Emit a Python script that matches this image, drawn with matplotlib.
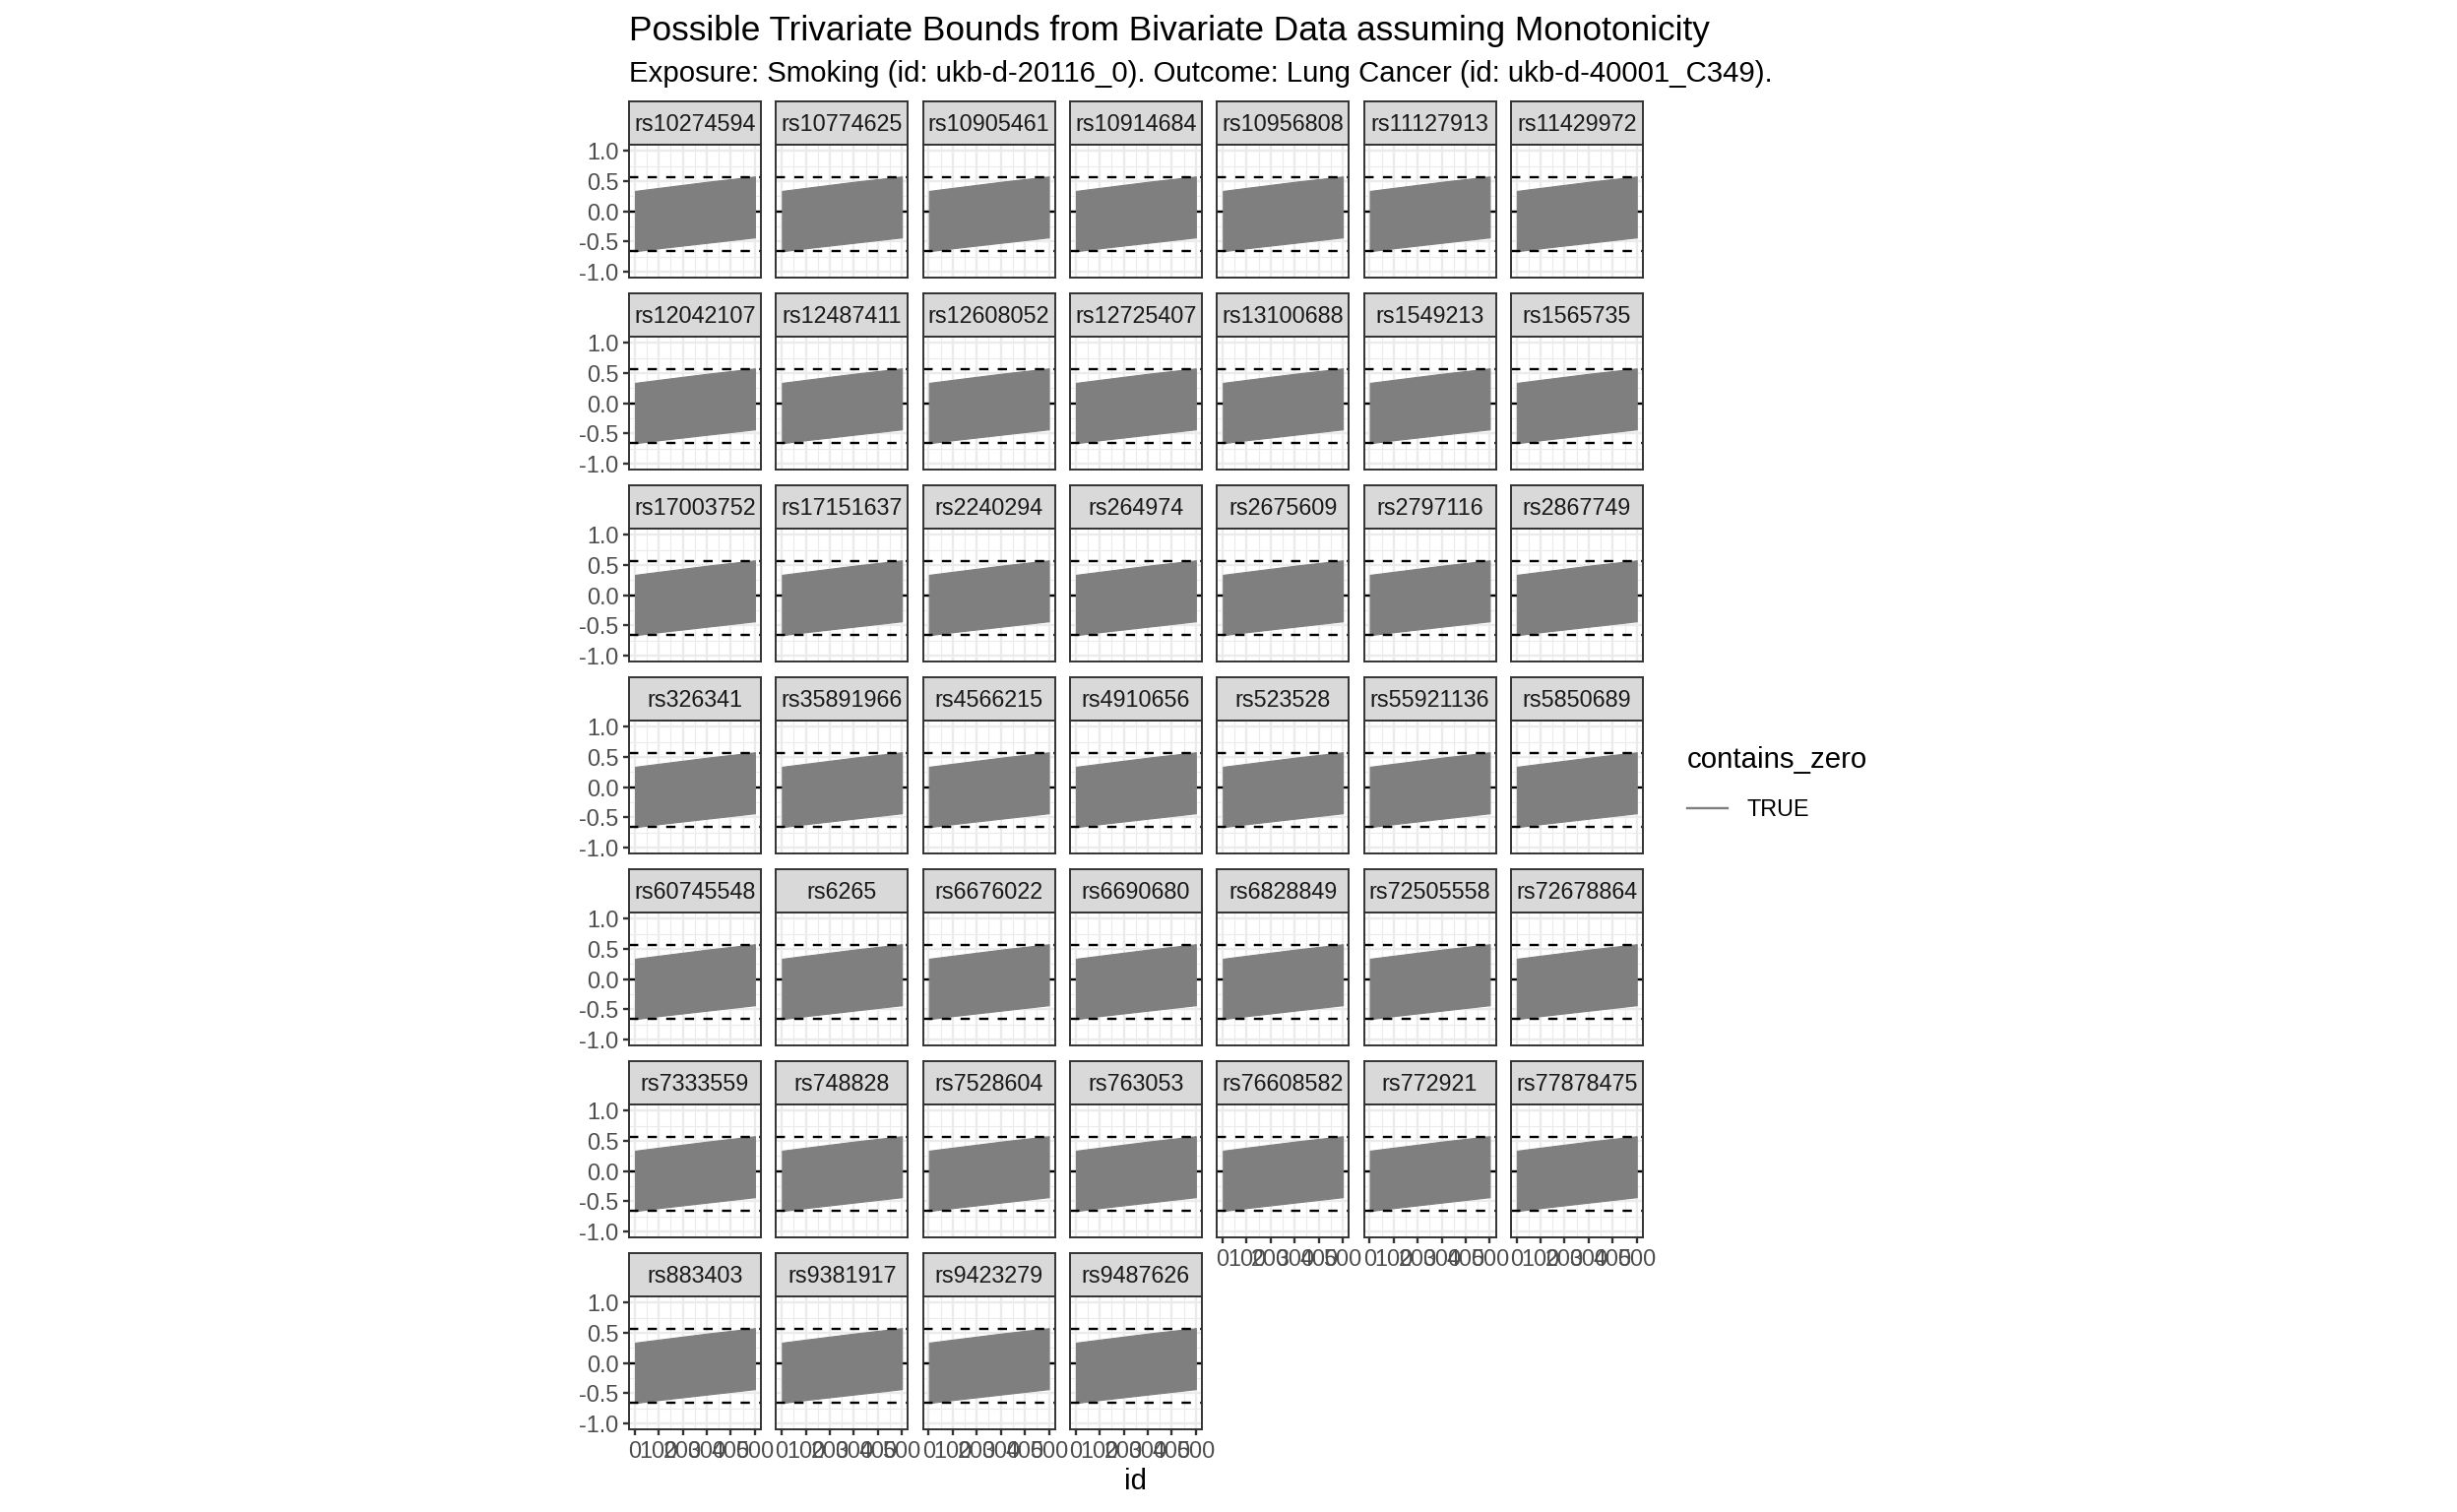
import matplotlib
matplotlib.use("Agg")
import matplotlib.pyplot as plt
from matplotlib.lines import Line2D
import numpy as np

plt.rcParams['font.family'] = ['Liberation Sans', 'DejaVu Sans']

# ---------------- data ----------------
snps = ["rs10274594", "rs10774625", "rs10905461", "rs10914684", "rs10956808", "rs11127913", "rs11429972",
        "rs12042107", "rs12487411", "rs12608052", "rs12725407", "rs13100688", "rs1549213", "rs1565735",
        "rs17003752", "rs17151637", "rs2240294", "rs264974", "rs2675609", "rs2797116", "rs2867749",
        "rs326341", "rs35891966", "rs4566215", "rs4910656", "rs523528", "rs55921136", "rs5850689",
        "rs60745548", "rs6265", "rs6676022", "rs6690680", "rs6828849", "rs72505558", "rs72678864",
        "rs7333559", "rs748828", "rs7528604", "rs763053", "rs76608582", "rs772921", "rs77878475",
        "rs883403", "rs9381917", "rs9423279", "rs9487626"]
ids = [1, 100, 200, 300, 400, 500]
upper_bound = [0.34, 0.39, 0.44, 0.49, 0.535, 0.58]
lower_bound = [-0.66, -0.61, -0.565, -0.52, -0.475, -0.43]
dashed_upper = 0.575
dashed_lower = -0.66
zero_line = 0.0
x_ticks = [0, 100, 200, 300, 400, 500]
x_ticklabels = ["0", "100", "200", "300", "400", "500"]
y_ticks = [-1.0, -0.5, 0.0, 0.5, 1.0]
y_ticklabels = ["-1.0", "-0.5", "0.0", "0.5", "1.0"]

# ---------------- layout ----------------
W, H = 2496, 1536
DPI = 100
fig = plt.figure(figsize=(W / DPI, H / DPI), dpi=DPI)
fig.patch.set_facecolor("white")

ncol = 7
left0 = 639.0
pitch_x = 149.3
pw = 134.0
strip_top0 = 103.3
pitch_y = 195.0
sh = 44.0
ph = 135.0

band_col = "#7F7F7F"
dark = "#333333"
grid_col = "#EBEBEB"
lw_border = 1.4
lw_major = 1.7
lw_minor = 0.8
small_fs = 16.8
big_fs = 21.2
title_fs = 25.4

def fbox(x, y_top, w, h):
    return [x / W, 1 - (y_top + h) / H, w / W, h / H]

n = len(snps)
for i, name in enumerate(snps):
    r, c = divmod(i, ncol)
    x = left0 + c * pitch_x
    st = strip_top0 + r * pitch_y
    # strip
    sax = fig.add_axes(fbox(x, st, pw, sh))
    sax.set_facecolor("#D9D9D9")
    sax.set_xticks([]); sax.set_yticks([])
    for s in sax.spines.values():
        s.set_color(dark); s.set_linewidth(lw_border)
    sax.text(0.5, 0.47, name, ha="center", va="center", fontsize=small_fs, color="#1A1A1A",
             transform=sax.transAxes)
    # panel
    ax = fig.add_axes(fbox(x, st + sh, pw, ph))
    ax.set_xlim(1 - 24.95, 500 + 24.95)
    ax.set_ylim(-1.1, 1.1)
    ax.set_xticks([50, 150, 250, 350, 450], minor=True)
    ax.set_yticks([-0.75, -0.25, 0.25, 0.75], minor=True)
    ax.set_xticks(x_ticks)
    ax.set_yticks(y_ticks)
    ax.grid(True, which="major", color=grid_col, linewidth=lw_major, zorder=0)
    ax.grid(True, which="minor", color=grid_col, linewidth=lw_minor, zorder=0)
    ax.set_axisbelow(True)
    ax.axhline(zero_line, color="black", linewidth=lw_major, zorder=1)
    ax.fill_between(ids, lower_bound, upper_bound, color=band_col, linewidth=0.8,
                    edgecolor=band_col, zorder=2)
    ax.axhline(dashed_upper, color="black", linewidth=lw_major, linestyle=(0, (4, 4)), zorder=3)
    ax.axhline(dashed_lower, color="black", linewidth=lw_major, linestyle=(0, (4, 4)), zorder=3)
    for s in ax.spines.values():
        s.set_color(dark); s.set_linewidth(lw_border); s.set_zorder(5)
    ax.tick_params(which="minor", length=0)
    ax.tick_params(which="major", length=4.6, width=lw_major, color=dark, pad=3.0,
                   labelsize=small_fs, labelcolor="#4D4D4D")
    if c == 0:
        ax.set_yticklabels(y_ticklabels)
    else:
        ax.tick_params(axis="y", which="major", left=False, labelleft=False)
    below_exists = (i + ncol) < n
    if not below_exists:
        ax.set_xticklabels(x_ticklabels)
    else:
        ax.tick_params(axis="x", which="major", bottom=False, labelbottom=False)

# titles
fig.text(left0 / W, 1 - 41 / H, "Possible Trivariate Bounds from Bivariate Data assuming Monotonicity",
         fontsize=title_fs, color="black", ha="left", va="baseline")
fig.text(left0 / W, 1 - 83 / H, "Exposure: Smoking (id: ukb-d-20116_0). Outcome: Lung Cancer (id: ukb-d-40001_C349).",
         fontsize=big_fs, color="black", ha="left", va="baseline")
# x axis title
center_x = (left0 + (ncol - 1) * pitch_x + pw + left0) / 2
fig.text(center_x / W, 1 - 1505 / H, "id", fontsize=big_fs, color="black", ha="center", va="center")

# legend
handle = Line2D([], [], color=band_col, linewidth=lw_major)
leg = fig.legend([handle], ["TRUE"], title="contains_zero", loc="upper left",
                 bbox_to_anchor=(1714 / W, 1 - 758 / H), frameon=False,
                 fontsize=small_fs, title_fontsize=big_fs, handlelength=1.75, handletextpad=0.85,
                 borderaxespad=0, borderpad=0)
leg._legend_box.align = "left"
leg._legend_box.sep = 18

fig.savefig("out.png", dpi=DPI, facecolor="white")
